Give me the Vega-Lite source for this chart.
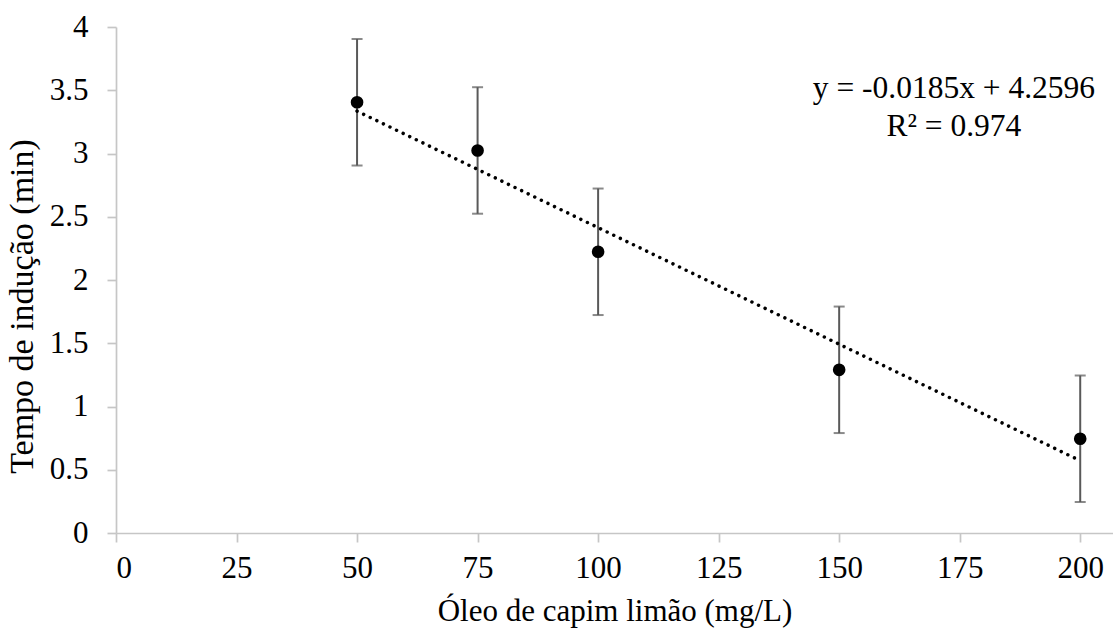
{
  "$schema": "https://vega.github.io/schema/vega-lite/v6.json",
  "autosize": {"type": "none"},
  "width": 997,
  "height": 506,
  "padding": {"left": 116, "top": 27, "right": 0, "bottom": 97},
  "background": "white",
  "config": {
    "view": {"stroke": null},
    "font": "Liberation Serif",
    "axis": {
      "grid": false,
      "domainColor": "#c6c6c6",
      "domainWidth": 1.7,
      "tickColor": "#c6c6c6",
      "tickWidth": 1.7,
      "tickSize": 9,
      "labelFont": "Liberation Serif",
      "labelFontSize": 31,
      "labelColor": "#000000",
      "titleFont": "Liberation Serif",
      "titleFontSize": 31,
      "titleFontWeight": "normal",
      "titleColor": "#000000"
    }
  },
  "datasets": {
    "pts": [
      {"conc": 50, "t": 3.405, "lo": 2.905, "hi": 3.905},
      {"conc": 75, "t": 3.024, "lo": 2.524, "hi": 3.524},
      {"conc": 100, "t": 2.223, "lo": 1.723, "hi": 2.723},
      {"conc": 150, "t": 1.29, "lo": 0.79, "hi": 1.79},
      {"conc": 200, "t": 0.745, "lo": 0.245, "hi": 1.245}
    ],
    "eq": [
      {"x": 173.8, "y": 3.44, "label": ["y = -0.0185x + 4.2596", "R² = 0.974"]}
    ]
  },
  "layer": [
    {
      "data": {"name": "pts"},
      "mark": {"type": "errorbar", "color": "#595959", "thickness": 2, "ticks": {"size": 11, "color": "#595959", "thickness": 2}},
      "encoding": {
        "x": {"field": "conc", "type": "quantitative", "scale": {"domain": [0, 206.8], "nice": false, "zero": false},
          "axis": {"values": [0, 25, 50, 75, 100, 125, 150, 175, 200], "title": "Óleo de capim limão (mg/L)", "labelPadding": 11, "titlePadding": 13}},
        "y": {"field": "lo", "type": "quantitative", "scale": {"domain": [0, 4], "nice": false},
          "axis": {"values": [0, 0.5, 1, 1.5, 2, 2.5, 3, 3.5, 4], "format": "~g", "title": "Tempo de indução (min)", "titleFontSize": 34, "titleY": 279, "labelPadding": 19, "titlePadding": 10}},
        "y2": {"field": "hi"}
      }
    },
    {
      "data": {"name": "pts"},
      "transform": [{"regression": "t", "on": "conc"}],
      "mark": {"type": "line", "color": "#000000", "strokeWidth": 3.5, "strokeDash": [0.01, 7.3], "strokeCap": "round"},
      "encoding": {
        "x": {"field": "conc", "type": "quantitative"},
        "y": {"field": "t", "type": "quantitative"}
      }
    },
    {
      "data": {"name": "pts"},
      "mark": {"type": "point", "filled": true, "color": "#000000", "opacity": 1, "size": 160},
      "encoding": {
        "x": {"field": "conc", "type": "quantitative"},
        "y": {"field": "t", "type": "quantitative"}
      }
    },
    {
      "data": {"name": "eq"},
      "mark": {"type": "text", "font": "Liberation Serif", "fontSize": 31.5, "align": "center", "baseline": "alphabetic", "lineHeight": 38, "color": "#000000"},
      "encoding": {
        "x": {"field": "x", "type": "quantitative"},
        "y": {"field": "y", "type": "quantitative"},
        "text": {"field": "label"}
      }
    }
  ]
}
